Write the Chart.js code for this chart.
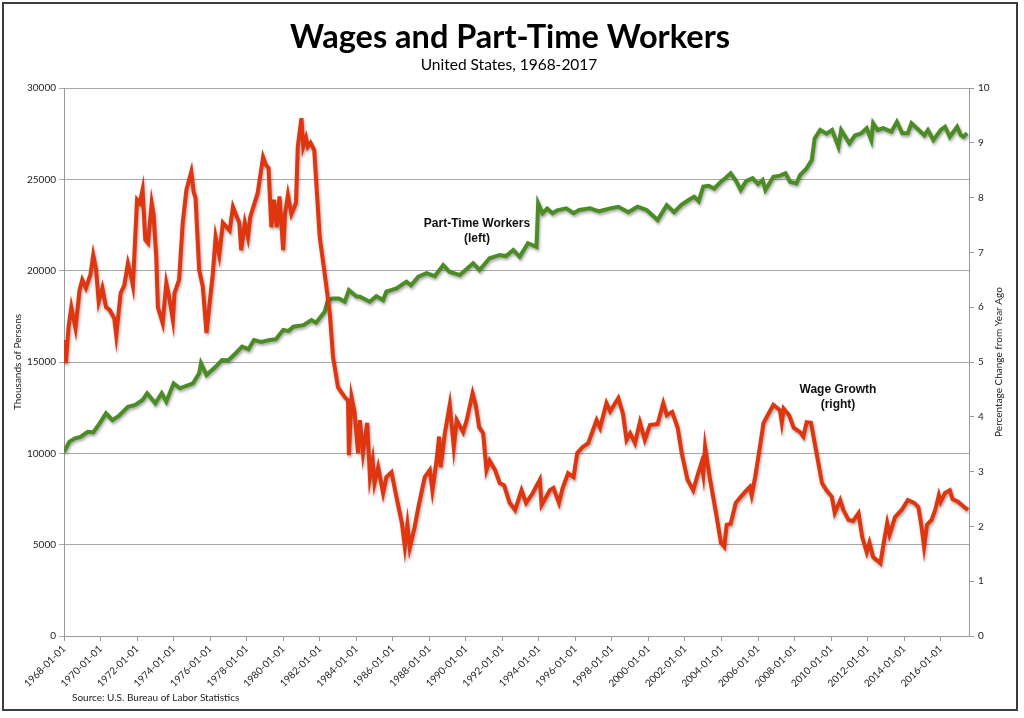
<!DOCTYPE html>
<html>
<head>
<meta charset="utf-8">
<script src="https://cdn.jsdelivr.net/npm/chart.js@4.4.1/dist/chart.umd.min.js"></script>
<style>
  html, body { margin: 0; padding: 0; background: #fff; }
  #wrap { position: relative; width: 1024px; height: 718px; }
  canvas { display: block; }
</style>
</head>
<body>
<div id="wrap"><canvas id="c" width="1024" height="718"></canvas></div>
<script>
// ---------- DATA ----------
const tickYears = [1968,1970,1972,1974,1976,1978,1980,1982,1984,1986,1988,1990,1992,1994,1996,1998,2000,2002,2004,2006,2008,2010,2012,2014,2016];

// Wage growth, percent change from year ago (right axis)
const wageYears = [1968.0,1968.1,1968.25,1968.4,1968.63,1968.85,1969.0,1969.2,1969.45,1969.6,1969.75,1969.9,1970.1,1970.3,1970.5,1970.75,1970.86,1971.1,1971.3,1971.5,1971.65,1971.77,1972.0,1972.15,1972.3,1972.45,1972.6,1972.8,1972.9,1973.05,1973.14,1973.4,1973.6,1973.75,1973.96,1974.05,1974.3,1974.5,1974.7,1974.97,1975.1,1975.2,1975.4,1975.6,1975.8,1975.95,1976.15,1976.3,1976.5,1976.7,1977.07,1977.25,1977.4,1977.6,1977.7,1977.9,1978.07,1978.2,1978.6,1978.9,1979.05,1979.2,1979.35,1979.5,1979.65,1979.8,1980.0,1980.1,1980.26,1980.45,1980.7,1980.8,1981.0,1981.1,1981.25,1981.35,1981.5,1981.7,1982.0,1982.27,1982.55,1982.73,1982.85,1983.0,1983.37,1983.55,1983.6,1983.74,1983.9,1984.1,1984.2,1984.37,1984.6,1984.75,1984.9,1985.0,1985.2,1985.47,1985.65,1985.93,1986.2,1986.5,1986.66,1986.8,1986.93,1987.2,1987.4,1987.75,1988.03,1988.17,1988.4,1988.54,1988.62,1988.85,1989.12,1989.34,1989.5,1989.85,1990.05,1990.37,1990.55,1990.73,1990.95,1991.13,1991.3,1991.6,1991.86,1992.1,1992.4,1992.7,1993.05,1993.3,1993.65,1994.05,1994.15,1994.6,1994.8,1995.1,1995.3,1995.6,1995.9,1996.1,1996.4,1996.7,1997.16,1997.35,1997.7,1997.9,1998.35,1998.6,1998.8,1999.0,1999.26,1999.53,1999.8,2000.08,2000.5,2000.81,2001.0,2001.3,2001.6,2001.82,2002.14,2002.45,2002.72,2002.9,2003.0,2003.1,2003.35,2003.7,2003.97,2004.15,2004.28,2004.5,2004.78,2005.05,2005.29,2005.55,2005.65,2005.84,2006.1,2006.3,2006.48,2006.84,2007.2,2007.3,2007.4,2007.7,2007.95,2008.3,2008.48,2008.66,2008.9,2009.2,2009.5,2009.75,2010.04,2010.2,2010.5,2010.67,2010.95,2011.2,2011.5,2011.7,2011.95,2012.1,2012.3,2012.7,2012.88,2013.07,2013.2,2013.5,2013.86,2014.2,2014.55,2014.78,2014.95,2015.09,2015.25,2015.5,2015.7,2015.9,2016.0,2016.24,2016.5,2016.65,2016.95,2017.3,2017.5];
const wageValues = [5.40,4.98,5.64,6.00,5.62,6.31,6.50,6.35,6.60,6.95,6.70,6.10,6.35,6.00,5.95,5.80,5.49,6.26,6.40,6.80,6.60,6.40,7.96,7.90,8.14,7.23,7.17,7.90,7.70,6.92,6.00,5.71,6.44,6.20,5.77,6.26,6.50,7.54,8.14,8.47,8.10,8.00,6.68,6.37,5.53,6.00,6.62,7.28,6.95,7.54,7.40,7.83,7.70,7.54,7.04,7.54,7.28,7.65,8.08,8.74,8.60,8.54,7.46,7.96,7.46,8.02,7.04,7.70,8.05,7.70,7.90,8.93,9.45,8.93,9.09,8.93,9.00,8.87,7.28,6.62,5.90,5.09,4.85,4.54,4.36,4.30,3.30,4.36,4.10,3.34,3.94,3.34,3.89,2.90,3.20,2.79,3.08,2.61,2.90,2.99,2.54,2.06,1.63,2.03,1.61,1.99,2.35,2.90,3.03,2.66,3.21,3.64,3.08,3.70,4.22,3.45,3.94,3.72,3.94,4.43,4.20,3.81,3.70,3.03,3.20,3.03,2.79,2.75,2.43,2.30,2.66,2.43,2.60,2.85,2.39,2.66,2.70,2.43,2.70,2.97,2.90,3.34,3.45,3.52,3.94,3.80,4.25,4.10,4.34,4.06,3.58,3.70,3.52,3.90,3.58,3.85,3.87,4.25,4.03,4.09,3.80,3.34,2.85,2.66,2.97,3.16,2.95,3.45,2.90,2.24,1.70,1.63,2.03,2.05,2.43,2.54,2.63,2.72,2.57,2.90,3.45,3.89,4.00,4.22,4.12,3.90,4.15,4.03,3.80,3.72,3.64,3.90,3.89,3.34,2.79,2.66,2.54,2.25,2.48,2.30,2.12,2.10,2.24,1.81,1.53,1.70,1.44,1.33,1.70,2.06,1.85,2.17,2.30,2.48,2.43,2.35,2.00,1.63,2.03,2.12,2.30,2.57,2.45,2.61,2.66,2.50,2.45,2.35,2.30];

// Part-time workers, thousands of persons (left axis)
const ptYears = [1968.0,1968.3,1968.6,1968.9,1969.3,1969.6,1969.95,1970.3,1970.65,1971.0,1971.5,1971.9,1972.3,1972.55,1973.0,1973.35,1973.6,1974.0,1974.35,1974.7,1975.06,1975.4,1975.5,1975.8,1976.3,1976.65,1977.0,1977.4,1977.75,1978.1,1978.4,1978.8,1979.26,1979.6,1980.0,1980.3,1980.55,1981.1,1981.55,1981.8,1982.27,1982.45,1982.7,1983.05,1983.37,1983.6,1984.0,1984.2,1984.74,1985.1,1985.47,1985.65,1986.2,1986.75,1987.0,1987.4,1987.85,1988.3,1988.76,1989.1,1989.67,1990.4,1990.75,1991.3,1991.85,1992.2,1992.6,1992.95,1993.4,1993.87,1993.96,1994.2,1994.45,1994.75,1995.0,1995.5,1995.9,1996.2,1996.8,1997.3,1997.9,1998.35,1998.9,1999.4,1999.9,2000.5,2001.0,2001.4,2001.8,2002.2,2002.5,2002.75,2003.0,2003.3,2003.6,2003.97,2004.25,2004.5,2004.8,2005.05,2005.35,2005.7,2006.0,2006.25,2006.4,2006.84,2007.2,2007.5,2007.75,2008.1,2008.3,2008.66,2008.94,2009.1,2009.4,2009.75,2010.05,2010.4,2010.55,2010.8,2011.0,2011.3,2011.65,2011.95,2012.2,2012.3,2012.55,2012.85,2013.3,2013.6,2013.9,2014.2,2014.4,2014.8,2015.1,2015.3,2015.6,2016.0,2016.24,2016.5,2016.9,2017.1,2017.25,2017.45];
const ptValues = [10090,10640,10820,10900,11180,11150,11640,12190,11820,12050,12550,12650,12920,13290,12740,13290,12830,13830,13560,13700,13830,14380,14930,14290,14740,15110,15100,15480,15840,15700,16200,16100,16200,16250,16750,16700,16930,17020,17300,17150,17750,18390,18480,18480,18300,18940,18600,18570,18300,18600,18390,18850,19030,19400,19200,19670,19860,19700,20310,19940,19760,20400,20040,20680,20860,20800,21130,20760,21500,21310,23690,23140,23400,23140,23300,23410,23150,23320,23410,23250,23410,23500,23200,23500,23320,22770,23590,23200,23600,23870,24050,23800,24600,24650,24500,24870,25100,25330,24900,24420,24900,25060,24750,24960,24420,25140,25200,25330,24870,24780,25230,25600,26060,27240,27700,27500,27700,26790,27700,27300,26970,27400,27520,27800,27150,28070,27700,27800,27610,28150,27520,27520,28070,27700,27420,27700,27150,27700,27880,27330,27880,27420,27330,27520];

// ---------- CHART ----------
const toPoints = (xs, ys) => xs.map((x, i) => ({ x: x, y: ys[i] }));

const lineShadow = {
  id: 'lineShadow',
  beforeDatasetDraw(chart) {
    const ctx = chart.ctx;
    ctx.save();
    ctx.shadowColor = 'rgba(0,0,0,0.35)';
    ctx.shadowBlur = 3;
    ctx.shadowOffsetX = 1;
    ctx.shadowOffsetY = 2;
  },
  afterDatasetDraw(chart) {
    chart.ctx.restore();
  }
};

const decorations = {
  id: 'decorations',
  afterDraw(chart) {
    const ctx = chart.ctx;
    ctx.save();
    ctx.fillStyle = '#000';
    ctx.textAlign = 'center';
    ctx.textBaseline = 'alphabetic';
    ctx.font = 'bold 32.5px Lato';
    ctx.fillText('Wages and Part-Time Workers', 510, 48);
    ctx.font = '15.5px Lato';
    ctx.fillText('United States, 1968-2017', 509, 70);

    ctx.font = 'bold 12px "Liberation Sans"';
    ctx.fillStyle = '#111';
    ctx.fillText('Part-Time Workers', 477, 227);
    ctx.fillText('(left)', 477, 242);
    ctx.fillText('Wage Growth', 838, 393);
    ctx.fillText('(right)', 838, 408);

    ctx.font = '10px Lato';
    ctx.fillStyle = '#222';
    ctx.textBaseline = 'middle';
    ctx.save();
    ctx.translate(18, 362);
    ctx.rotate(-Math.PI / 2);
    ctx.fillText('Thousands of Persons', 0, 0);
    ctx.restore();
    ctx.save();
    ctx.translate(999, 362);
    ctx.rotate(-Math.PI / 2);
    ctx.fillText('Percentage Change from Year Ago', 0, 0);
    ctx.restore();

    ctx.textAlign = 'left';
    ctx.font = '10px Lato';
    ctx.fillText('Source: U.S. Bureau of Labor Statistics', 72, 698);

    ctx.strokeStyle = '#3c3c3c';
    ctx.lineWidth = 2;
    ctx.strokeRect(3, 3, 1014, 707);
    ctx.restore();
  }
};

const tickFont = { family: 'Lato', size: 10 };

new Chart(document.getElementById('c'), {
  type: 'line',
  data: {
    datasets: [
      {
        label: 'Wage Growth (right)',
        data: toPoints(wageYears, wageValues),
        yAxisID: 'yR',
        borderColor: '#e0360f',
        borderWidth: 4,
        pointRadius: 0,
        tension: 0,
        fill: false
      },
      {
        label: 'Part-Time Workers (left)',
        data: toPoints(ptYears, ptValues),
        yAxisID: 'yL',
        borderColor: '#4c8c25',
        borderWidth: 4,
        pointRadius: 0,
        tension: 0,
        fill: false
      }
    ]
  },
  options: {
    responsive: false,
    animation: false,
    events: [],
    layout: { padding: { top: 88, left: 0, right: 0, bottom: 0 } },
    plugins: {
      legend: { display: false },
      title: { display: false },
      tooltip: { enabled: false }
    },
    scales: {
      x: {
        type: 'linear',
        min: 1968,
        max: 2017.55,
        afterBuildTicks(scale) { scale.ticks = tickYears.map(v => ({ value: v })); },
        afterFit(scale) { scale.height = 82; },
        ticks: {
          autoSkip: false,
          minRotation: 45,
          maxRotation: 45,
          padding: 2,
          font: tickFont,
          color: '#222',
          callback: v => v + '-01-01'
        },
        grid: { drawOnChartArea: false, drawTicks: true, tickLength: 5, color: '#999' },
        border: { display: true, color: '#999', width: 1 }
      },
      yL: {
        type: 'linear',
        position: 'left',
        min: 0,
        max: 30000,
        afterFit(scale) { scale.width = 64; },
        ticks: { stepSize: 5000, font: tickFont, color: '#222', padding: 3, callback: v => String(v) },
        grid: { color: '#a8a8a8', lineWidth: 1, tickLength: 5, drawTicks: true },
        border: { display: true, color: '#999', width: 1 }
      },
      yR: {
        type: 'linear',
        position: 'right',
        min: 0,
        max: 10,
        afterFit(scale) { scale.width = 55; },
        ticks: { stepSize: 1, font: tickFont, color: '#222', padding: 4, callback: v => String(v) },
        grid: { drawOnChartArea: false, tickLength: 5, color: '#999' },
        border: { display: true, color: '#999', width: 1 }
      }
    }
  },
  plugins: [lineShadow, decorations]
});
</script>
</body>
</html>
